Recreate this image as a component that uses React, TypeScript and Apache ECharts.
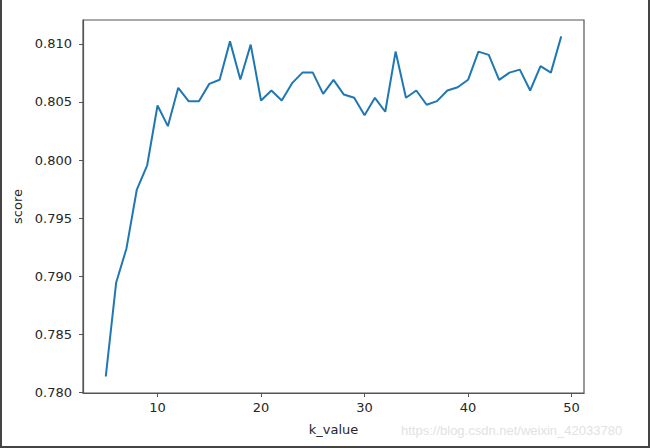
import React, { useEffect, useRef } from "react";
import * as echarts from "echarts";

const kValues: number[] = [
  5, 6, 7, 8, 9, 10, 11, 12, 13, 14, 15, 16, 17, 18, 19, 20, 21, 22, 23, 24, 25, 26, 27,
  28, 29, 30, 31, 32, 33, 34, 35, 36, 37, 38, 39, 40, 41, 42, 43, 44, 45, 46, 47, 48, 49,
];
const scores: number[] = [
  0.78136, 0.78943, 0.79239, 0.79746, 0.79955, 0.8047, 0.80292, 0.80622, 0.80507, 0.80507,
  0.80656, 0.80691, 0.81022, 0.80693, 0.80994, 0.80513, 0.80599, 0.80513, 0.80662, 0.80753,
  0.80753, 0.8057, 0.80691, 0.80564, 0.80536, 0.80386, 0.80536, 0.80416, 0.80934, 0.80536,
  0.80599, 0.80476, 0.80507, 0.80599, 0.80627, 0.80691, 0.80934, 0.80906, 0.80691, 0.80753,
  0.80779, 0.80599, 0.80808, 0.80753, 0.81065,
];
const xTicks: number[] = [10, 20, 30, 40, 50];
const yTicks: number[] = [0.78, 0.785, 0.79, 0.795, 0.8, 0.805, 0.81];

export default function App() {
  const ref = useRef<HTMLDivElement>(null);
  useEffect(() => {
    if (!ref.current) return;
    const chart = echarts.init(ref.current, null, { renderer: "svg" });
    const font = "DejaVu Sans";
    chart.setOption({
      animation: false,
      backgroundColor: "#ffffff",
      grid: {
        left: 83,
        top: 20,
        right: 66,
        bottom: 55,
        show: true,
        borderColor: "#555555",
        borderWidth: 1.2,
        backgroundColor: "transparent",
      },
      xAxis: {
        type: "value",
        min: 2.8,
        max: 51.2,
        name: "k_value",
        nameLocation: "middle",
        nameGap: 30,
        nameTextStyle: { fontFamily: font, fontSize: 13, color: "#262626" },
        axisLine: { show: true, onZero: false, lineStyle: { color: "#555555", width: 1.2 } },
        axisTick: { show: true, inside: false, length: 4, customValues: xTicks, lineStyle: { color: "#555555" } },
        axisLabel: {
          customValues: xTicks,
          margin: 8,
          fontFamily: font,
          fontSize: 13,
          color: "#262626",
        },
        splitLine: { show: false },
      },
      yAxis: {
        type: "value",
        min: 0.77994,
        max: 0.81206,
        name: "score",
        nameLocation: "middle",
        nameRotate: 90,
        nameGap: 57,
        nameTextStyle: { fontFamily: font, fontSize: 13, color: "#262626" },
        axisLine: { show: true, onZero: false, lineStyle: { color: "#555555", width: 1.2 } },
        axisTick: { show: true, inside: false, length: 4, customValues: yTicks, lineStyle: { color: "#555555" } },
        axisLabel: {
          customValues: yTicks,
          margin: 11,
          fontFamily: font,
          fontSize: 13,
          color: "#262626",
          formatter: (v: number) => v.toFixed(3),
        },
        splitLine: { show: false },
      },
      series: [
        {
          type: "line",
          data: kValues.map((k, i) => [k, scores[i]]),
          showSymbol: false,
          symbol: "none",
          lineStyle: { color: "#1f77b4", width: 2 },
        },
      ],
      graphic: [
        { type: "rect", left: 0, top: 0, shape: { width: 2, height: 448 }, style: { fill: "#444444" } },
        { type: "rect", left: 648, top: 0, shape: { width: 2, height: 448 }, style: { fill: "#444444" } },
        { type: "rect", left: 0, top: 446, shape: { width: 650, height: 2 }, style: { fill: "#444444" } },
        {
          type: "text",
          left: 401,
          top: 424,
          style: {
            text: "https://blog.csdn.net/weixin_42033780",
            fontFamily: "Liberation Sans",
            fontSize: 13,
            fill: "#e2e2e2",
          },
        },
      ],
    });
    return () => chart.dispose();
  }, []);
  return (
    <div
      ref={ref}
      style={{ position: "fixed", left: 0, top: 0, width: 650, height: 448 }}
    />
  );
}
